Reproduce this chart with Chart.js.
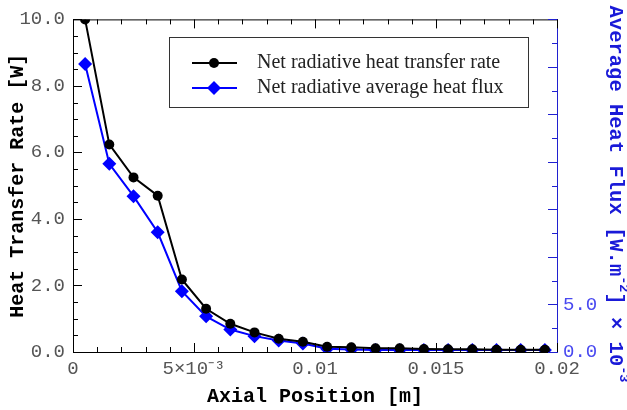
<!DOCTYPE html>
<html>
<head>
<meta charset="utf-8">
<script src="https://cdn.jsdelivr.net/npm/chart.js@4.4.0/dist/chart.umd.min.js"></script>
<style>
    html, body { margin: 0; padding: 0; background: #fff; }
</style>
</head>
<body>
<canvas class="js-chart" width="627" height="410"></canvas>
<script>
// axial positions [m]
const positions = [0.0005, 0.0015, 0.0025, 0.0035, 0.0045, 0.0055, 0.0065, 0.0075, 0.0085, 0.0095,
                   0.0105, 0.0115, 0.0125, 0.0135, 0.0145, 0.0155, 0.0165, 0.0175, 0.0185, 0.0195];
// net radiative heat transfer rate [W] (left axis)
const heatRate = [10.0, 6.24, 5.25, 4.70, 2.18, 1.30, 0.85, 0.59, 0.40, 0.31,
                  0.16, 0.14, 0.11, 0.11, 0.09, 0.08, 0.08, 0.07, 0.07, 0.07];
// net radiative average heat flux [W.m-2] x 10-3 (right axis)
const heatFlux = [30.3, 19.8, 16.4, 12.6, 6.4, 3.75, 2.36, 1.67, 1.2, 0.9,
                  0.34, 0.25, 0.2, 0.2, 0.2, 0.2, 0.2, 0.2, 0.2, 0.2];

const seriesNames = ['Net radiative heat transfer rate', 'Net radiative average heat flux'];

// tick labels
const xTickValues = [0, 0.005, 0.01, 0.015, 0.02];
const xTickLabels = ['0', '5×10⁻³', '0.01', '0.015', '0.02'];
const leftTickValues = [0, 2, 4, 6, 8, 10];
const leftTickLabels = ['0.0', '2.0', '4.0', '6.0', '8.0', '10.0'];
const rightTickValues = [0, 5];
const rightTickLabels = ['0.0', '5.0'];

const near = (a, b) => Math.abs(a - b) < 1e-9;

function labelFor(value, values, labels) {
    for (let i = 0; i < values.length; i++) {
        if (near(value, values[i])) return labels[i];
    }
    return '';
}

const BLUE = '#0000ff';
const tickFont = {family: 'Liberation Mono', size: 19};
const titleFont = {family: 'Liberation Mono', size: 20, weight: 'bold', lineHeight: 1.2};

// inward tick marks + top frame line
const innerTicks = {
    id: 'innerTicks',
    afterDraw(chart) {
        const {ctx, chartArea: a, scales} = chart;
        ctx.save();
        ctx.lineWidth = 1;
        ctx.strokeStyle = '#000';
        ctx.beginPath();
        for (const t of scales.x.ticks) {
            const px = Math.round(scales.x.getPixelForValue(t.value)) + 0.5;
            const len = labelFor(t.value, xTickValues, xTickLabels) ? 9 : 5;
            ctx.moveTo(px, a.bottom); ctx.lineTo(px, a.bottom - len);
            ctx.moveTo(px, a.top); ctx.lineTo(px, a.top + len);
        }
        for (const t of scales.y.ticks) {
            const py = Math.round(scales.y.getPixelForValue(t.value)) + 0.5;
            const len = labelFor(t.value, leftTickValues, leftTickLabels) ? 9 : 5;
            ctx.moveTo(a.left, py); ctx.lineTo(a.left + len, py);
        }
        ctx.moveTo(a.left, a.top + 0.5); ctx.lineTo(a.right, a.top + 0.5);
        ctx.stroke();

        ctx.strokeStyle = '#2020d0';
        ctx.beginPath();
        for (const t of scales.y2.ticks) {
            const py = Math.round(scales.y2.getPixelForValue(t.value)) + 0.5;
            const len = near(t.value % 5, 0) ? 9 : 5;
            ctx.moveTo(a.right, py); ctx.lineTo(a.right - len, py);
        }
        ctx.stroke();
        ctx.restore();
    }
};

// legend box inside the plot
const boxLegend = {
    id: 'boxLegend',
    afterDraw(chart) {
        const ctx = chart.ctx;
        ctx.save();
        ctx.strokeStyle = '#333';
        ctx.lineWidth = 1;
        ctx.strokeRect(169.5, 37.5, 359, 70);
        ctx.font = '20px "Liberation Serif"';
        ctx.textBaseline = 'middle';
        chart.data.datasets.forEach(function (ds, i) {
            const y = 63 + i * 25;
            ctx.strokeStyle = ds.borderColor;
            ctx.lineWidth = 2;
            ctx.beginPath();
            ctx.moveTo(192, y); ctx.lineTo(237, y);
            ctx.stroke();
            ctx.fillStyle = ds.backgroundColor;
            ctx.beginPath();
            if (ds.pointStyle === 'rectRot') {
                const r = ds.pointRadius;
                ctx.moveTo(214, y - r); ctx.lineTo(214 + r, y);
                ctx.lineTo(214, y + r); ctx.lineTo(214 - r, y);
                ctx.closePath();
            } else {
                ctx.arc(214, y, ds.pointRadius, 0, Math.PI * 2);
            }
            ctx.fill();
            ctx.fillStyle = '#222';
            ctx.fillText(ds.label, 257, y);
        });
        ctx.restore();
    }
};

// right axis title with superscripts, read top to bottom
const rightTitle = {
    id: 'rightTitle',
    afterDraw(chart) {
        const ctx = chart.ctx;
        const parts = [
            ['Average Heat Flux [W.m', false],
            ['-2', true],
            ['] × 10', false],
            ['-3', true]
        ];
        const big = 'bold 20.5px "Liberation Mono"';
        const small = 'bold 13.5px "Liberation Mono"';
        let total = 0;
        for (const [txt, sup] of parts) {
            ctx.font = sup ? small : big;
            total += ctx.measureText(txt).width;
        }
        ctx.save();
        ctx.translate(615, 194 - total / 2);
        ctx.rotate(Math.PI / 2);
        ctx.fillStyle = '#1a1ad8';
        ctx.textBaseline = 'middle';
        let x = 0;
        for (const [txt, sup] of parts) {
            ctx.font = sup ? small : big;
            ctx.fillText(txt, x, sup ? -8 : 0);
            x += ctx.measureText(txt).width;
        }
        ctx.restore();
    }
};

const initChart = function () {
    const data = {
        datasets: [{
            label: seriesNames[0],
            data: positions.map((x, i) => ({x: x, y: heatRate[i]})),
            borderColor: '#000',
            backgroundColor: '#000',
            borderWidth: 2,
            pointStyle: 'circle',
            pointRadius: 5,
            pointBorderWidth: 0,
            yAxisID: 'y'
        }, {
            label: seriesNames[1],
            data: positions.map((x, i) => ({x: x, y: heatFlux[i]})),
            borderColor: BLUE,
            backgroundColor: BLUE,
            borderWidth: 2,
            pointStyle: 'rectRot',
            pointRadius: 7,
            pointBorderWidth: 0,
            yAxisID: 'y2'
        }]
    };

    const config = {
        type: 'line',
        data: data,
        options: {
            responsive: false,
            animation: false,
            layout: {padding: {top: 16, left: 0, right: 0, bottom: 0}},
            plugins: {
                legend: {display: false},
                tooltip: {enabled: false}
            },
            scales: {
                x: {
                    type: 'linear',
                    min: 0,
                    max: 0.02,
                    afterFit: (s) => { s.height = 58; },
                    grid: {display: false, drawTicks: false},
                    border: {display: true, color: '#000', width: 1},
                    ticks: {
                        stepSize: 0.001,
                        autoSkip: false,
                        maxRotation: 0,
                        padding: 6,
                        color: '#555',
                        font: tickFont,
                        callback: (v) => labelFor(v, xTickValues, xTickLabels)
                    },
                    title: {
                        display: true,
                        text: 'Axial Position [m]',
                        color: '#000',
                        font: titleFont,
                        padding: {top: 0, bottom: 1}
                    }
                },
                y: {
                    type: 'linear',
                    position: 'left',
                    min: 0,
                    max: 10,
                    afterFit: (s) => { s.width = 73; },
                    grid: {display: false, drawTicks: false},
                    border: {display: true, color: '#000', width: 1},
                    ticks: {
                        stepSize: 0.5,
                        autoSkip: false,
                        padding: 8,
                        color: '#555',
                        font: tickFont,
                        callback: (v) => labelFor(v, leftTickValues, leftTickLabels)
                    },
                    title: {
                        display: true,
                        text: 'Heat Transfer Rate [W]',
                        color: '#000',
                        font: titleFont,
                        padding: {top: 6, bottom: 0}
                    }
                },
                y2: {
                    type: 'linear',
                    position: 'right',
                    min: 0,
                    max: 35,
                    afterFit: (s) => { s.width = 70; },
                    grid: {display: false, drawTicks: false},
                    border: {display: true, color: '#2020d0', width: 1},
                    ticks: {
                        stepSize: 2.5,
                        autoSkip: false,
                        padding: 6,
                        color: '#4848f0',
                        font: tickFont,
                        callback: (v) => labelFor(v, rightTickValues, rightTickLabels)
                    }
                }
            }
        },
        plugins: [innerTicks, boxLegend, rightTitle]
    };

    const chart = new Chart(document.querySelector('.js-chart'), config);
};

document.addEventListener('DOMContentLoaded', function () {
    initChart();
});
</script>
</body>
</html>
